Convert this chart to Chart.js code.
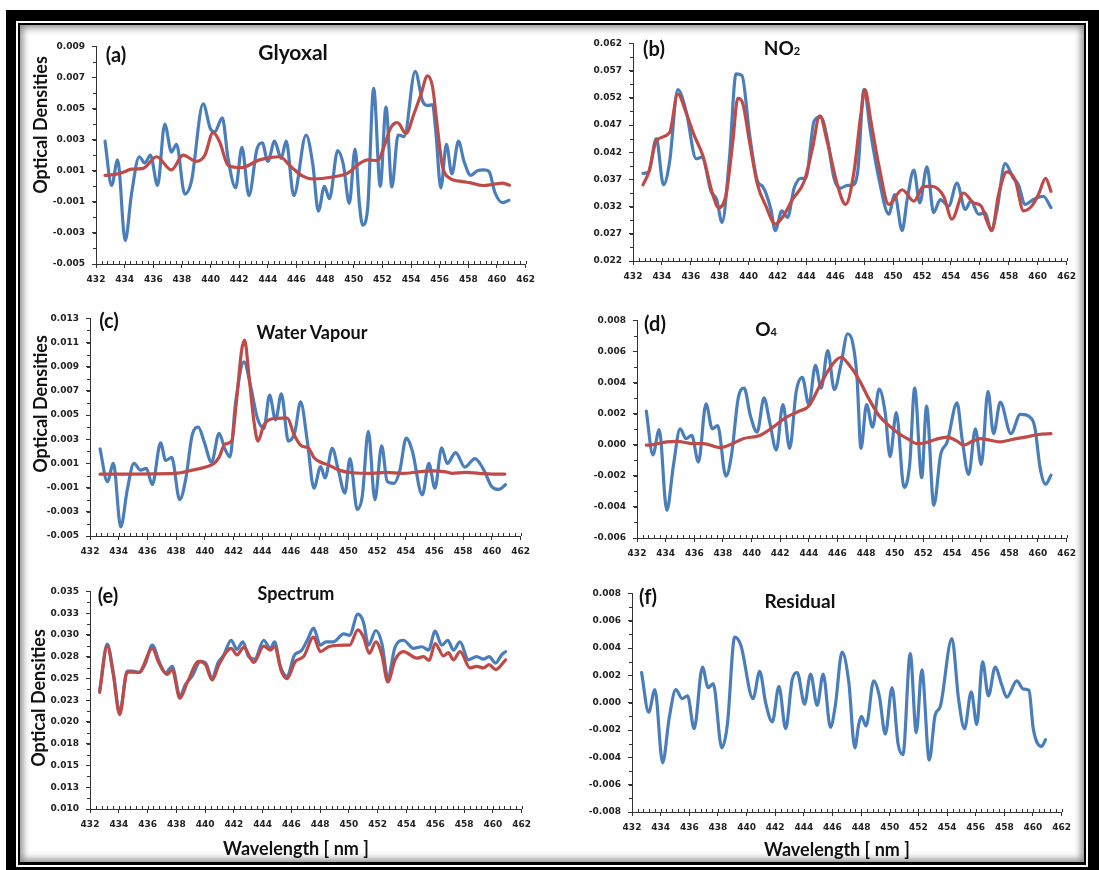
<!DOCTYPE html>
<html>
<head>
<meta charset="utf-8">
<script src="https://cdn.jsdelivr.net/npm/chart.js@4.4.1/dist/chart.umd.min.js"></script>
<style>
  body { margin: 0; width: 1099px; height: 870px; background: #fff; position: relative; overflow: hidden; font-family: Lato, "Open Sans", sans-serif; }
  .box { position: absolute; }
  .lbl { position: absolute; transform: translate(-50%, -50%); font-weight: bold; font-size: 18px; color: #111; white-space: nowrap; line-height: 1; }
  .tag { font-size: 20px; }
  .ytitle { transform: translate(-50%, -50%) rotate(-90deg); }
  .lbl small { font-size: 11px; }
  canvas { position: absolute; }
</style>
</head>
<body>

<!-- frame -->
<div class="box" style="left:6px; top:10px; width:1093px; height:860px; background:#000;"></div>
<div class="box" style="left:16px; top:21px; width:1072px; height:846px; background:#fff;"></div>
<div class="box" style="left:18px; top:23px; width:1068px; height:842px; background:#000;"></div>
<div class="box" style="left:20px; top:25px; width:1064px; height:837px; background:#fff;"></div>

<div id="charts"></div>

<div class="box" style="left:20px; top:25px; width:1064px; height:837px; box-shadow: inset 0 0 7px 3px rgba(0,0,0,0.45); pointer-events:none;"></div>

<!-- titles -->
<div class="lbl tag" style="left:116px; top:54px;">(a)</div>
<div class="lbl" style="left:293px; top:51px; font-size:21px;">Glyoxal</div>
<div class="lbl tag" style="left:654px; top:48px;">(b)</div>
<div class="lbl" style="left:782px; top:47px; font-size:19px;">NO<small>2</small></div>
<div class="lbl tag" style="left:109px; top:320px;">(c)</div>
<div class="lbl" style="left:312px; top:332px;">Water Vapour</div>
<div class="lbl tag" style="left:655px; top:323px;">(d)</div>
<div class="lbl" style="left:766px; top:328px; font-size:19px;">O<small>4</small></div>
<div class="lbl tag" style="left:108px; top:595px;">(e)</div>
<div class="lbl" style="left:296px; top:593px;">Spectrum</div>
<div class="lbl tag" style="left:648px; top:596px;">(f)</div>
<div class="lbl" style="left:800px; top:600px; font-size:19px;">Residual</div>

<div class="lbl ytitle" style="left:40px; top:125px;">Optical Densities</div>
<div class="lbl ytitle" style="left:40px; top:404px;">Optical Densities</div>
<div class="lbl ytitle" style="left:38px; top:698px;">Optical Densities</div>
<div class="lbl" style="left:296px; top:848px;">Wavelength [ nm ]</div>
<div class="lbl" style="left:837px; top:849px;">Wavelength [ nm ]</div>

<script>
// ---- data (wavelength in nm, optical densities) ----

const xTickLabels = ['432','434','436','438','440','442','444','446','448','450','452','454','456','458','460','462'];

// (a) Glyoxal
const glyWlMeas = [432.63,433.09,433.51,434.04,434.48,435.02,435.41,435.8,436.3,436.8,437.27,437.62,438.2,438.66,439.48,439.99,440.29,440.82,441.22,441.75,442.19,442.68,443.24,443.61,444.0,444.47,444.93,445.28,445.81,446.67,447.14,447.53,447.95,448.3,448.88,449.27,449.69,450.09,450.39,450.62,450.97,451.39,451.85,452.25,452.66,453.1,453.52,454.29,454.8,455.15,455.5,455.73,456.08,456.47,456.85,457.31,457.7,458.17,458.63,459.09,459.44,459.86,460.37,460.84];
const glyMeas = [0.0029,0.00005,0.0017,-0.0035,-0.0005,0.0019,0.0015,0.0020,0.00005,0.0040,0.0022,0.0027,-0.0005,0.0003,0.0053,0.0037,0.0035,0.0044,0.0018,-0.0001,0.0025,-0.0006,0.0024,0.0028,0.0016,0.0029,0.0018,0.0029,-0.0006,0.0033,0.0014,-0.0016,0.0000,-0.0008,0.0023,0.0014,-0.0011,0.0024,-0.0011,-0.0025,-0.0014,0.0063,0.0000,0.0051,-0.00005,0.0033,0.0032,0.0074,0.0055,0.0052,0.00525,0.0035,-0.0001,0.0027,0.0008,0.0029,0.0016,0.0007,0.0010,0.00105,0.00095,-0.0004,-0.00105,-0.0009];
const glyWlFit = [432.63,433.44,433.9,434.48,435.3,436.23,437.27,438.08,439.01,439.6,440.17,440.64,441.22,442.15,443.42,444.82,445.63,446.44,447.14,448.53,449.58,450.39,450.97,451.67,452.13,452.6,453.06,453.64,454.22,454.69,455.15,455.5,455.85,456.19,456.66,457.6,458.17,458.98,459.91,460.37,460.88];
const glyFit = [0.0007,0.00078,0.0009,0.0011,0.00115,0.0019,0.00105,0.0020,0.0016,0.0020,0.00345,0.00285,0.00135,0.0012,0.0017,0.0019,0.00125,0.00065,0.00047,0.0006,0.00085,0.00145,0.0017,0.00165,0.0026,0.0038,0.0041,0.0034,0.0047,0.0059,0.0071,0.0064,0.0037,0.0013,0.00055,0.0003,0.00022,0.00005,0.00015,0.0002,0.00007];

// (b) NO2
const no2WlMeas = [432.69,433.1,433.61,434.11,434.53,435.1,435.68,436.37,436.78,437.4,437.79,438.16,438.67,439.13,439.54,440.05,440.62,440.97,441.54,441.84,442.3,442.69,443.15,443.61,443.95,444.53,444.99,445.45,445.91,446.37,446.83,447.17,447.56,447.98,448.44,449.01,449.7,450.11,450.62,450.97,451.43,451.84,452.34,452.8,453.26,453.84,454.41,454.99,455.38,455.91,456.37,456.78,457.17,457.75,458.32,458.67,459.13,459.7,460.39,460.92];
const no2Meas = [0.0381,0.0384,0.0445,0.0360,0.0402,0.0535,0.0495,0.0408,0.0411,0.0348,0.0333,0.0291,0.0408,0.0564,0.0561,0.0456,0.0366,0.0357,0.0315,0.0276,0.0312,0.0300,0.0354,0.0372,0.0372,0.0477,0.0485,0.0444,0.0372,0.0354,0.0359,0.0359,0.0387,0.0535,0.0456,0.0372,0.0306,0.0342,0.0276,0.0333,0.0387,0.0327,0.0393,0.0309,0.0333,0.0321,0.0363,0.0315,0.0330,0.0306,0.0309,0.0276,0.0312,0.0399,0.0372,0.0360,0.0324,0.0333,0.0339,0.0318];
const no2WlFit = [432.69,433.1,433.61,434.53,435.1,435.68,436.25,436.83,437.52,437.93,438.44,438.9,439.25,439.59,440.05,440.62,441.2,441.84,442.34,443.03,443.84,444.41,444.92,445.45,446.14,446.71,447.29,447.75,448.05,448.44,449.01,449.7,450.62,451.43,452.11,452.69,453.49,454.07,454.87,455.56,456.09,456.48,456.83,457.29,457.87,458.44,459.02,459.59,460.05,460.55,460.92];
const no2Fit = [0.0360,0.0384,0.0441,0.0456,0.0527,0.0492,0.0450,0.0414,0.0342,0.0318,0.0342,0.0438,0.0519,0.0510,0.0441,0.0360,0.0321,0.0288,0.0300,0.0333,0.0366,0.0426,0.0487,0.0438,0.0360,0.0324,0.0384,0.0486,0.0535,0.0480,0.0396,0.0324,0.0351,0.0330,0.0357,0.0357,0.0339,0.0297,0.0345,0.0327,0.0321,0.0294,0.0276,0.0342,0.0384,0.0369,0.0312,0.0321,0.0342,0.0372,0.0348];

// (c) Water vapour
const h2oWlMeas = [432.7,433.21,433.63,434.14,434.6,435.06,435.53,435.92,436.34,436.92,437.27,437.69,438.25,438.66,439.13,439.55,439.94,440.47,440.99,441.4,441.75,442.15,442.73,443.19,443.66,444.12,444.51,444.93,445.33,445.82,446.28,446.67,447.14,447.6,448.07,448.37,448.88,449.3,449.76,450.11,450.62,450.97,451.39,451.85,452.32,452.71,453.17,453.59,454.03,454.45,455.15,455.61,456.03,456.5,456.89,457.47,458.12,458.82,459.44,459.98,460.49,460.95];
const h2oMeas = [0.0022,-0.0005,0.0010,-0.00425,-0.00115,0.0010,0.00045,0.0006,-0.00075,0.0027,0.00125,0.0015,-0.0020,-0.00035,0.0034,0.0040,0.00285,0.0011,0.0035,0.0022,0.00155,0.0061,0.0094,0.0074,0.00475,0.0039,0.00665,0.0046,0.00675,0.00285,0.00365,0.0061,0.00285,-0.00105,0.00075,-0.0002,0.00225,0.00045,-0.00145,0.0014,-0.0028,-0.0017,0.00365,-0.0020,0.00245,-0.0005,-0.00065,0.00045,0.0031,0.00205,-0.0016,0.0010,-0.00105,0.0023,0.0010,0.0019,0.0007,0.0014,0.00045,-0.0009,-0.00115,-0.00075];
const h2oWlFit = [432.7,437.97,439.13,440.06,440.64,440.99,441.4,441.87,442.2,442.57,442.77,443.08,443.42,443.7,444.12,444.7,445.4,445.75,446.21,446.74,447.2,447.6,448.07,448.65,449.34,450.27,451.67,452.6,453.76,454.92,455.84,456.77,457.24,458.17,459.1,460.02,460.9];
const h2oFit = [0.00012,0.00018,0.00045,0.0007,0.0010,0.0015,0.0026,0.00285,0.0061,0.0104,0.0112,0.0082,0.0045,0.00285,0.0042,0.0047,0.00475,0.00475,0.0034,0.00245,0.0023,0.0015,0.0011,0.00085,0.00045,0.00023,0.00018,0.00026,0.00018,0.00031,0.00039,0.00031,0.00018,0.00026,0.00018,0.00012,0.00012];

// (d) O4
const o4WlMeas = [432.65,433.11,433.55,434.08,434.55,435.01,435.43,435.82,436.29,436.82,437.26,437.63,438.21,438.6,439.07,439.48,439.92,440.39,440.87,441.27,441.73,442.19,442.66,443.12,443.54,444.0,444.46,444.86,445.32,445.78,446.25,446.71,447.06,447.36,447.64,448.03,448.45,448.91,449.33,449.67,450.11,450.65,451.04,451.39,451.88,452.22,452.73,453.2,453.66,454.35,454.7,455.16,455.63,456.04,456.51,456.9,457.37,458.11,458.76,459.57,459.8,460.15,460.54,460.91];
const o4Meas = [0.00217,-0.00066,0.00098,-0.00422,-0.00128,0.00102,0.00039,0.0006,-0.00112,0.00263,0.00102,0.00123,-0.00202,-0.00066,0.00301,0.00364,0.00186,0.00081,0.00301,0.00144,-0.00034,0.00259,-0.00024,0.00343,0.00433,0.00259,0.00511,0.00364,0.00605,0.00354,0.00521,0.00714,0.00657,0.00437,-0.00024,0.00259,0.00113,0.00358,0.00207,-0.00076,0.00207,-0.00275,-0.00128,0.00364,-0.00212,0.00249,-0.0039,-0.00066,0.00017,0.0027,0.00039,-0.00191,0.00102,-0.00128,0.00343,0.00071,0.00274,0.00071,0.00196,0.00165,0.00102,-0.00149,-0.00254,-0.00196];
const o4WlFit = [432.65,433.16,434.08,434.78,435.94,436.63,437.79,438.49,439.41,440.57,441.5,442.42,443.35,444.0,444.74,445.44,446.25,446.83,447.52,448.22,448.91,449.6,450.3,450.88,451.57,452.15,452.85,453.66,454.35,454.81,455.4,455.97,456.67,457.37,458.18,459.1,460.03,460.91];
const o4Fit = [-0.00003,0.00001,0.00018,0.00022,0.00007,0.00007,-0.00018,0.0,0.00039,0.0006,0.00113,0.00176,0.00217,0.00249,0.00375,0.0049,0.00563,0.00511,0.00416,0.00291,0.00186,0.00123,0.00071,0.00039,0.00007,0.00013,0.00034,0.00049,0.00023,-0.00003,0.00022,0.00039,0.00029,0.00018,0.00034,0.00049,0.00066,0.00071];

// (e) Spectrum
const specWlMeas = [432.67,433.2,433.62,434.06,434.59,434.94,435.45,435.86,436.33,436.83,437.25,437.71,438.25,438.64,439.1,439.68,440.03,440.49,440.91,441.3,441.81,442.22,442.62,443.03,443.45,444.07,444.53,444.83,445.23,445.69,446.22,446.69,447.15,447.54,448.01,448.4,448.93,449.63,450.04,450.62,451.01,451.36,451.87,452.29,452.7,453.21,453.79,454.48,455.06,455.53,455.99,456.45,456.87,457.26,457.72,458.3,458.88,459.35,459.74,460.2,460.61,460.89];
const specMeas = [0.0236,0.02894,0.02564,0.02115,0.02583,0.02583,0.0257,0.02677,0.02882,0.02684,0.02564,0.0264,0.0230,0.02433,0.02527,0.02695,0.02677,0.02508,0.02684,0.0277,0.02939,0.02834,0.0292,0.02751,0.02721,0.02939,0.02845,0.0292,0.0264,0.02527,0.0277,0.02819,0.02957,0.03077,0.02882,0.0292,0.0292,0.03013,0.02995,0.03238,0.03144,0.02882,0.03051,0.02901,0.02508,0.02864,0.02939,0.02845,0.02864,0.02826,0.03043,0.02882,0.02939,0.02826,0.0292,0.02714,0.02751,0.02721,0.02751,0.02677,0.0277,0.02808];
const specWlFit = [432.67,433.2,433.62,434.06,434.59,435.4,436.33,436.79,437.37,437.71,438.25,438.76,439.56,440.03,440.49,440.96,441.81,442.22,442.69,443.38,444.07,444.53,444.83,445.3,445.69,446.27,446.85,447.54,448.01,448.59,449.63,450.04,450.62,451.01,451.41,451.87,452.29,452.7,453.21,453.79,454.72,455.18,455.58,455.99,456.57,456.91,457.26,457.72,458.42,458.88,459.35,459.74,460.2,460.89];
const specFit = [0.0234,0.02871,0.02546,0.02085,0.02576,0.0257,0.02845,0.02677,0.02546,0.02602,0.02272,0.02452,0.02695,0.02658,0.02482,0.02658,0.02845,0.0277,0.02856,0.02684,0.02871,0.02826,0.02864,0.02583,0.02497,0.02695,0.02751,0.02976,0.02808,0.02864,0.02882,0.02882,0.03058,0.02976,0.02789,0.0292,0.0277,0.0246,0.02714,0.02808,0.02733,0.02751,0.02707,0.02901,0.02759,0.02796,0.02714,0.02808,0.02621,0.02639,0.02621,0.02658,0.02602,0.02714];

// (f) Residual
const resWl = [432.67,433.16,433.6,434.14,434.6,435.06,435.5,435.88,436.34,436.92,437.32,437.67,438.27,438.66,439.17,439.6,440.45,440.92,441.33,441.8,442.26,442.73,443.19,443.54,444.05,444.47,444.93,445.35,445.86,446.2,446.67,447.14,447.56,447.83,448.02,448.35,448.88,449.27,449.69,450.16,450.58,450.92,451.43,451.85,452.24,452.76,453.17,453.52,454.34,454.8,455.22,455.69,456.08,456.48,456.89,457.36,457.82,458.17,458.87,459.33,459.72,460.02,460.6,460.88];
const residual = [0.0022,-0.0007,0.00095,-0.0044,-0.0011,0.00095,0.0003,0.0005,-0.0019,0.0026,0.0011,0.0014,-0.0033,-0.0016,0.0048,0.0042,0.0003,0.0023,0.0000,-0.0014,0.0012,-0.0019,0.0017,0.0022,-0.0001,0.0021,-0.0002,0.0021,-0.0018,-0.0002,0.0037,0.0015,-0.0033,-0.0016,-0.0010,-0.0017,0.0016,0.0005,-0.0023,0.0011,-0.0030,-0.0038,0.0036,-0.0022,0.0024,-0.0042,-0.0009,-0.0003,0.0047,0.0003,-0.0019,0.0008,-0.0016,0.0030,0.0005,0.0026,0.0013,0.0004,0.0016,0.0010,0.0009,-0.0019,-0.0032,-0.0027];

// y axis ranges and labels
const yLabelsA = ['-0.005','-0.003','-0.001','0.001','0.003','0.005','0.007','0.009'];
const yLabelsB = ['0.022','0.027','0.032','0.037','0.042','0.047','0.052','0.057','0.062'];
const yLabelsC = ['-0.005','-0.003','-0.001','0.001','0.003','0.005','0.007','0.009','0.011','0.013'];
const yLabelsD = ['-0.006','-0.004','-0.002','0.000','0.002','0.004','0.006','0.008'];
const yLabelsE = ['0.010','0.013','0.015','0.018','0.020','0.023','0.025','0.028','0.030','0.033','0.035'];
const yLabelsF = ['-0.008','-0.006','-0.004','-0.002','0.000','0.002','0.004','0.006','0.008'];

// ---- styling / layout ----
const BLUE = '#4A7EBB';
const RED = '#BE4B48';
const AXIS = '#333';
const AXW = 50, AXH = 30, PADT = 8, PADR = 14;

const pts = (xs, ys) => xs.map((x, i) => ({ x: x, y: ys[i] }));

const panels = [
  { box: [96, 527, 42, 264], y: [-0.005, 0.009, 0.002], labels: yLabelsA,
    series: [[glyWlFit, glyFit, RED], [glyWlMeas, glyMeas, BLUE]] },
  { box: [633, 1068, 39, 261], y: [0.022, 0.062, 0.005], labels: yLabelsB,
    series: [[no2WlFit, no2Fit, RED], [no2WlMeas, no2Meas, BLUE]] },
  { box: [90, 522, 314, 536], y: [-0.005, 0.013, 0.002], labels: yLabelsC,
    series: [[h2oWlFit, h2oFit, RED], [h2oWlMeas, h2oMeas, BLUE]] },
  { box: [637, 1068, 316, 538], y: [-0.006, 0.008, 0.002], labels: yLabelsD,
    series: [[o4WlFit, o4Fit, RED], [o4WlMeas, o4Meas, BLUE]] },
  { box: [90, 523, 587, 809], y: [0.010, 0.035, 0.0025], labels: yLabelsE,
    series: [[specWlFit, specFit, RED], [specWlMeas, specMeas, BLUE]] },
  { box: [632, 1063, 589, 812], y: [-0.008, 0.008, 0.002], labels: yLabelsF,
    series: [[resWl, residual, BLUE]] }
];

// small inside ticks on x (every 0.4 nm) and half-step ticks on y
const minorTicks = {
  id: 'minorTicks',
  afterDraw(chart) {
    const { ctx, scales: { x, y } } = chart;
    ctx.save();
    ctx.strokeStyle = AXIS;
    ctx.lineWidth = 1;
    ctx.beginPath();
    const nx = Math.round((x.max - x.min) / 0.4);
    for (let i = 0; i <= nx; i++) {
      const px = Math.round(x.getPixelForValue(x.min + i * 0.4)) + 0.5;
      ctx.moveTo(px, y.bottom);
      ctx.lineTo(px, y.bottom - 3);
    }
    const half = chart.options.scales.y.ticks.stepSize / 2;
    const ny = Math.round((y.max - y.min) / half);
    for (let i = 0; i <= ny; i++) {
      const py = Math.round(y.getPixelForValue(y.min + i * half)) + 0.5;
      ctx.moveTo(x.left, py);
      ctx.lineTo(x.left - 3, py);
    }
    ctx.stroke();
    ctx.restore();
  }
};

const holder = document.getElementById('charts');

panels.forEach(p => {
  const [l, r, t, b] = p.box;
  const cv = document.createElement('canvas');
  const w = r - l + AXW + PADR;
  const h = b - t + PADT + AXH;
  cv.width = w; cv.height = h;
  cv.style.left = (l - AXW) + 'px';
  cv.style.top = (t - PADT) + 'px';
  cv.style.width = w + 'px';
  cv.style.height = h + 'px';
  holder.appendChild(cv);

  const tickFont = { family: 'DejaVu Sans', size: 9, weight: 'bold' };

  new Chart(cv, {
    type: 'line',
    data: {
      datasets: p.series.map(s => ({
        data: pts(s[0], s[1]),
        borderColor: s[2],
        borderWidth: 3.2,
        pointRadius: 0,
        fill: false,
        cubicInterpolationMode: 'monotone',
        borderCapStyle: 'round',
        borderJoinStyle: 'round'
      }))
    },
    options: {
      responsive: false,
      devicePixelRatio: 1,
      animation: false,
      layout: { padding: { top: PADT, right: PADR, left: 0, bottom: 0 } },
      plugins: { legend: { display: false }, tooltip: { enabled: false } },
      scales: {
        x: {
          type: 'linear', min: 432, max: 462,
          afterFit: s => { s.height = AXH; },
          ticks: { stepSize: 2, autoSkip: false, maxRotation: 0, padding: 6, color: '#222', font: tickFont,
                   callback: (v, i) => xTickLabels[i] },
          grid: { drawOnChartArea: false, tickLength: 4, color: AXIS },
          border: { color: AXIS, width: 1 }
        },
        y: {
          min: p.y[0], max: p.y[1],
          afterFit: s => { s.width = AXW; },
          ticks: { stepSize: p.y[2], autoSkip: false, padding: 7, color: '#222', font: tickFont,
                   callback: (v, i) => p.labels[i] },
          grid: { drawOnChartArea: false, tickLength: 4, color: AXIS },
          border: { color: AXIS, width: 1 }
        }
      }
    },
    plugins: [minorTicks]
  });
});
</script>
</body>
</html>
